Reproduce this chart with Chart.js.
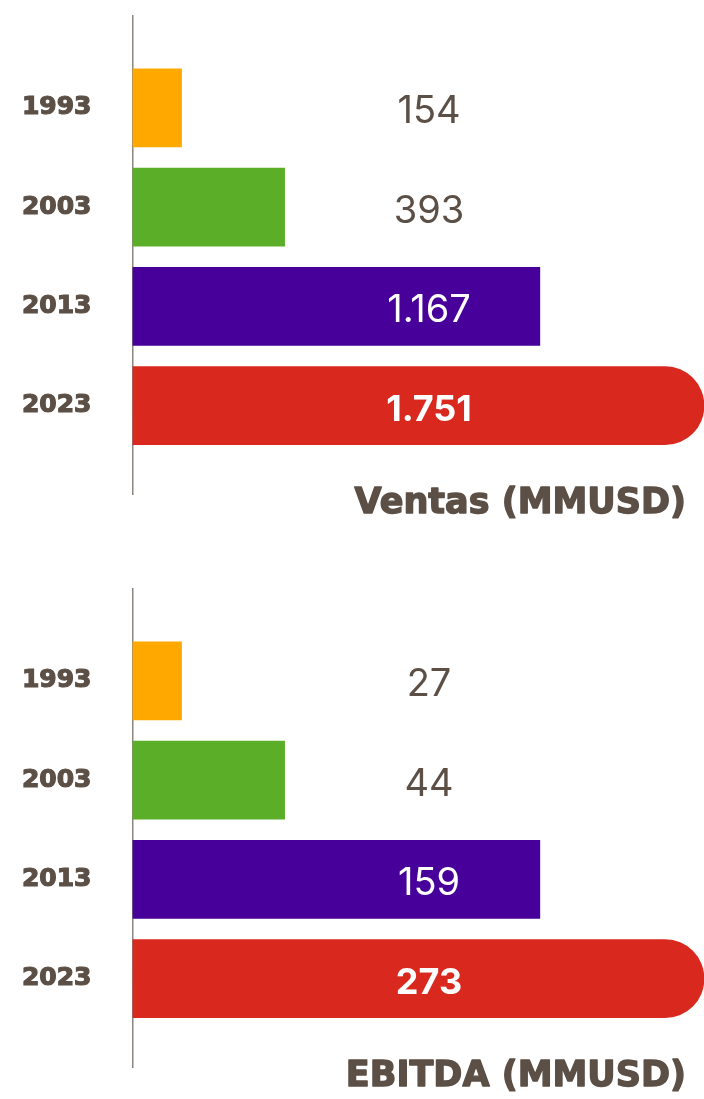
<!DOCTYPE html>
<html><head><meta charset="utf-8">
<script src="https://cdn.jsdelivr.net/npm/chart.js@4.4.1/dist/chart.umd.min.js"></script>
<style>
html,body{margin:0;padding:0;background:#fff;overflow:hidden;width:704px;height:1099px;}
canvas{position:absolute;left:0;}
#c1{top:0}
#c2{top:573px}
</style></head><body>
<canvas id="c1" width="704" height="573"></canvas>
<canvas id="c2" width="704" height="573"></canvas>
<script>
// ---- data ----
const years = ['1993', '2003', '2013', '2023'];
const ventasValues = [154, 393, 1167, 1751];
const ebitdaValues = [27, 44, 159, 273];
// bar lengths as drawn in the graphic (illustrative, not proportional to the values)
const barLength = [49, 152, 407, 571];
const titles = ['Ventas (MMUSD)', 'EBITDA (MMUSD)'];

// ---- styles ----
const barColors = ['#FFA800', '#5BAF28', '#48009A', '#D9291E'];
const textColor = '#5B4F46';
const valueColors = [textColor, textColor, '#FFFFFF', '#FFFFFF'];
const valueFonts = ['400 38px Inter', '400 38px Inter', '400 38px Inter', '700 36px Inter'];

const fmt = n => String(n).replace(/\B(?=(\d{3})+(?!\d))/g, '.');

const labelPlugin = {
  id: 'valueLabels',
  afterDatasetsDraw(chart, args, opts) {
    const ctx = chart.ctx;
    const meta = chart.getDatasetMeta(0);
    ctx.save();
    ctx.textAlign = 'center';
    ctx.textBaseline = 'alphabetic';
    meta.data.forEach((bar, i) => {
      ctx.font = valueFonts[i];
      ctx.fillStyle = valueColors[i];
      ctx.fillText(fmt(opts.values[i]), 429, bar.y + 15.5);
    });
    ctx.font = 'bold 35px "DejaVu Sans"';
    ctx.textAlign = 'right';
    ctx.fillStyle = textColor;
    ctx.strokeStyle = textColor;
    ctx.lineWidth = 1.4;
    ctx.lineJoin = 'round';
    ctx.fillText(opts.title, 686, 513);
    ctx.strokeText(opts.title, 686, 513);
    ctx.restore();
  }
};

function makeChart(id, values, title) {
  return new Chart(document.getElementById(id), {
    type: 'bar',
    data: {
      datasets: [{
        data: years.map((y, i) => ({ x: barLength[i], y: i })),
        backgroundColor: barColors,
        borderWidth: 0,
        barThickness: 78,
        borderSkipped: 'start',
        borderRadius: ctx => ctx.dataIndex === 3 ? { topRight: 39, bottomRight: 39, topLeft: 0, bottomLeft: 0 } : 0
      }]
    },
    plugins: [labelPlugin],
    options: {
      indexAxis: 'y',
      responsive: false,
      animation: false,
      layout: { padding: { top: 16, bottom: 79, left: 0, right: 0 } },
      plugins: {
        legend: { display: false },
        tooltip: { enabled: false },
        valueLabels: { values: values, title: title }
      },
      scales: {
        x: { type: 'linear', display: false, min: 0, max: 571 },
        y: {
          type: 'linear',
          reverse: true,
          offset: false,
          min: -0.926,
          max: 3.89,
          afterBuildTicks: s => { s.ticks = years.map((_, i) => ({ value: i })); },
          afterFit: s => { s.width = 132.5; s.paddingTop = 0; s.paddingBottom = 0; },
          grid: { display: false, drawTicks: false, offset: false },
          border: { display: true, color: '#8C847E', width: 1.5 },
          ticks: {
            autoSkip: false,
            padding: 41,
            color: textColor,
            textStrokeColor: textColor,
            textStrokeWidth: 1.2,
            font: { family: 'DejaVu Sans', weight: 'bold', size: 25 },
            callback: v => years[v]
          }
        }
      }
    }
  });
}

makeChart('c1', ventasValues, titles[0]);
makeChart('c2', ebitdaValues, titles[1]);
</script>
</body></html>
